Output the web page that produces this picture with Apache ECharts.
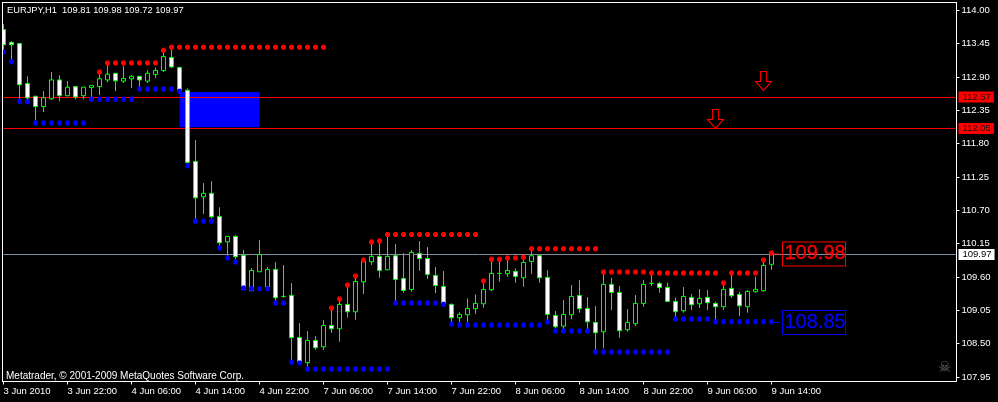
<!DOCTYPE html>
<html><head><meta charset="utf-8">
<style>html,body{margin:0;padding:0;background:#000;overflow:hidden}#c{width:998px;height:402px}</style>
<script src="https://cdn.jsdelivr.net/npm/echarts@6/dist/echarts.min.js"></script>
</head><body><div id="c"></div>
<script>
const xTickLabels=['3 Jun 2010','3 Jun 22:00','4 Jun 06:00','4 Jun 14:00','4 Jun 22:00','7 Jun 06:00','7 Jun 14:00','7 Jun 22:00','8 Jun 06:00','8 Jun 14:00','8 Jun 22:00','9 Jun 06:00','9 Jun 14:00'];
const yTickLabels=[114.00,113.45,112.90,112.35,111.80,111.25,110.70,110.15,109.60,109.05,108.50,107.95];
const opens=[113.68,113.47,113.45,112.79,112.58,112.41,112.54,112.85,112.59,112.74,
112.59,112.725,112.74,112.85,112.96,112.83,112.87,112.91,112.83,112.94,
113.005,113.22,113.055,112.68,111.505,110.923,110.98,110.60,110.18,110.27,
109.956,109.374,109.687,109.44,109.725,109.28,109.297,108.604,108.187,108.555,
108.45,108.80,108.747,109.148,109.027,109.52,109.852,109.94,109.72,109.95,
109.577,109.395,109.989,109.906,109.626,109.445,109.148,108.928,108.978,109.077,
109.159,109.39,109.659,109.654,109.692,109.588,109.857,109.95,109.593,108.967,
108.791,108.978,109.296,109.082,108.851,108.697,109.478,109.346,108.731,108.83,
109.165,109.495,109.495,109.429,109.198,109.044,109.264,109.159,109.264,109.165,
109.11,109.412,109.313,109.11,109.357,109.374,109.81];
const closes=[113.43,113.43,112.77,112.555,112.41,112.555,112.85,112.59,112.73,112.57,
112.73,112.76,112.87,112.945,112.835,112.875,112.91,112.85,112.96,113.005,
113.235,113.065,112.68,111.49,110.906,110.98,110.593,110.165,110.27,109.934,
109.395,109.709,109.972,109.725,109.258,109.28,108.599,108.203,108.555,108.434,
108.80,108.747,109.148,109.027,109.527,109.857,109.94,109.709,109.94,109.56,
109.379,110.005,109.906,109.643,109.461,109.137,108.928,108.983,109.082,109.165,
109.395,109.659,109.659,109.708,109.61,109.84,109.95,109.588,108.983,108.78,
108.983,109.28,109.077,108.862,108.681,109.478,109.346,108.714,108.852,109.165,
109.478,109.495,109.429,109.198,109.028,109.28,109.143,109.247,109.176,109.11,
109.396,109.291,109.126,109.363,109.396,109.791,109.97];
const lows=[113.34,113.15,112.53,112.52,112.18,112.32,112.52,112.50,112.58,112.53,
112.53,112.56,112.60,112.81,112.665,112.80,112.715,112.73,112.80,112.88,
112.98,113.045,112.655,111.47,110.55,110.64,110.565,110.115,109.945,109.89,
109.385,109.368,109.687,109.44,109.192,109.258,108.23,108.19,108.12,108.40,
108.395,108.68,108.533,108.93,108.895,109.319,109.80,109.588,109.709,109.203,
109.34,109.357,109.703,109.566,109.335,109.12,108.851,108.851,108.851,108.989,
109.093,109.368,109.522,109.604,109.505,109.439,109.648,109.505,108.89,108.752,
108.736,108.906,109.011,108.725,108.395,108.423,109.055,108.599,108.698,108.791,
109.11,109.451,109.341,109.198,108.934,109.011,109.055,109.088,109.055,108.89,
109.055,109.253,108.956,109.011,109.341,109.357,109.72];
const highs=[113.77,113.49,113.46,112.91,112.59,112.665,112.98,112.93,112.83,112.75,
112.73,112.76,112.945,113.10,112.96,113.08,112.93,112.91,113.01,113.055,
113.31,113.35,113.07,112.71,111.857,111.148,111.18,110.75,110.27,110.29,
110.044,109.747,110.209,109.764,109.846,109.797,109.50,108.84,108.708,108.626,
108.89,109.055,109.203,109.44,109.588,109.857,110.148,110.159,110.29,110.143,
109.994,110.044,110.192,110.093,109.764,109.698,109.165,109.016,109.247,109.313,
109.494,109.862,109.862,109.879,109.741,109.895,110.027,109.961,109.714,109.038,
109.219,109.467,109.549,109.269,109.121,109.659,109.587,109.451,109.071,109.302,
109.55,109.632,109.517,109.506,109.258,109.434,109.319,109.401,109.385,109.192,
109.467,109.648,109.357,109.385,109.605,109.846,109.98];
const redDots=[null,null,null,null,null,null,null,null,null,null,
null,null,112.98,113.13,113.13,113.13,113.13,113.13,113.13,113.13,
113.34,113.39,113.39,113.39,113.39,113.39,113.39,113.39,113.39,113.39,
113.39,113.39,113.39,113.39,113.39,113.39,113.39,113.39,113.39,113.39,
113.39,109.088,109.236,109.467,109.615,109.879,110.176,110.192,110.30,110.30,
110.30,110.30,110.30,110.30,110.30,110.30,110.30,110.30,110.30,110.30,
109.533,109.895,109.895,109.912,109.912,109.928,110.066,110.066,110.066,110.066,
110.066,110.066,110.066,110.066,110.066,109.681,109.681,109.681,109.681,109.681,
109.681,109.665,109.665,109.665,109.665,109.665,109.665,109.665,109.665,109.665,
109.50,109.665,109.665,109.665,109.665,109.879,109.995];
const blueDots=[113.31,113.15,112.50,112.49,112.14,112.14,112.14,112.14,112.14,112.14,
112.14,112.53,112.53,112.53,112.53,112.53,112.53,112.70,112.70,112.70,
112.70,112.70,112.665,111.434,110.52,110.52,110.52,110.077,109.912,109.846,
109.417,109.406,109.406,109.406,109.17,109.17,108.198,108.181,108.082,108.082,
108.082,108.082,108.082,108.082,108.082,108.082,108.082,108.082,108.082,109.17,
109.17,109.17,109.17,109.17,109.17,109.15,108.824,108.807,108.807,108.807,
108.807,108.807,108.807,108.807,108.807,108.807,108.807,108.807,108.857,108.708,
108.708,108.708,108.708,108.708,108.362,108.362,108.362,108.362,108.362,108.362,
108.362,108.362,108.362,108.362,108.907,108.907,108.907,108.907,108.907,108.863,
108.863,108.863,108.863,108.863,108.863,108.863,108.863];
const levelLines=[112.57,112.05];
const bidLine=109.97;
const upperLevel=109.98, lowerLevel=108.85;
const zoneTop=112.65, zoneBottom=112.07;
const arrows=[[95,112.833],[89,112.206]];

const FONT='"Liberation Sans"';
const PLUS='path://M1,0H4V1H5V4H4V5H1V4H0V1H1Z';
const categories=[];
for(let i=0;i<120;i++) categories.push(i%8===0&&i/8<xTickLabels.length?xTickLabels[i/8]:'');
const candles=opens.map((o,i)=>[o,closes[i],lows[i],highs[i]]);
const onTick=i=>i%8===0&&i<=96;

const bigLabel=(c)=>({show:true,position:'right',distance:3,color:c,opacity:1,fontFamily:FONT,fontSize:20,
  textBorderColor:c,textBorderWidth:0.3,
  borderColor:c,borderWidth:1,padding:[1,1,0,2],width:60,height:23,lineHeight:23,align:'left',verticalAlign:'middle'});

const chart=echarts.init(document.getElementById('c'),null,{renderer:'canvas',width:998,height:402});
chart.setOption({
  animation:false,backgroundColor:'#000',
  grid:{left:3.5,right:42.5,top:2.5,bottom:20.5,show:false},
  xAxis:{type:'category',boundaryGap:false,data:categories,
    axisLine:{show:true,lineStyle:{color:'#fff',width:1}},
    axisTick:{show:true,length:3,interval:onTick,lineStyle:{color:'#fff'}},
    axisLabel:{show:true,interval:onTick,color:'#fff',fontFamily:FONT,fontSize:9.5,margin:5,align:'left',hideOverlap:false},
    splitLine:{show:false}},
  yAxis:{type:'value',position:'right',offset:1,min:107.877,max:114.127,scale:true,
    axisLine:{show:true,lineStyle:{color:'#fff',width:1}},
    axisTick:{show:true,length:3,customValues:yTickLabels,lineStyle:{color:'#fff'}},
    axisLabel:{show:true,customValues:yTickLabels,color:'#fff',fontFamily:FONT,fontSize:9.5,margin:5,formatter:v=>v.toFixed(2)},
    splitLine:{show:false}},
  series:[
    {type:'scatter',name:'levels',data:[],z:1,silent:true,
     markArea:{silent:true,z:1,itemStyle:{color:'#0000ff',opacity:1},data:[[{coord:[22,zoneTop]},{coord:[32,zoneBottom]}]]},
     markLine:{silent:true,z:2,symbol:'none',animation:false,precision:2,
       data:[
        ...levelLines.map(v=>({yAxis:v,lineStyle:{color:'#ff0000',width:1,type:'solid',opacity:1},
          label:{show:true,position:'end',distance:3,formatter:v.toFixed(2),color:'#111',backgroundColor:'#ff0000',fontFamily:FONT,fontSize:9.5,padding:[1,3,0,4]}})),
        {yAxis:bidLine,lineStyle:{color:'#8090a0',width:1,type:'solid',opacity:1},
          label:{show:true,position:'end',distance:3,formatter:bidLine.toFixed(2),color:'#000',backgroundColor:'#fff',fontFamily:FONT,fontSize:9.5,padding:[1,3,0,4]}}
       ]}},
    {type:'candlestick',name:'EURJPY',data:candles,z:3,barWidth:4,clip:true,
     itemStyle:{color:'#000',color0:'#fff',borderColor:'#00ff00',borderColor0:'#00ff00',borderColorDoji:'#00ff00',borderWidth:1}},
    {type:'scatter',name:'resistance',data:redDots.map((v,i)=>[i,v]),symbol:PLUS,symbolSize:5,z:4,itemStyle:{color:'#ff0000',opacity:1}},
    {type:'scatter',name:'support',data:blueDots.map((v,i)=>[i,v]),symbol:PLUS,symbolSize:5,z:4,itemStyle:{color:'#0000ff',opacity:1}},
    {type:'scatter',name:'arrows',data:arrows,symbol:'path://M5,0 H11 V10 H16 L8,19 L0,10 H5 Z',symbolSize:[16,19],z:4,
     itemStyle:{color:'rgba(0,0,0,0)',borderColor:'#ff0000',borderWidth:1,opacity:1}},
    {type:'line',name:'upperLink',data:[[96,upperLevel],[97,upperLevel]],symbol:'none',z:2,lineStyle:{color:'#ff0000',width:1}},
    {type:'line',name:'lowerLink',data:[[96,lowerLevel],[97,lowerLevel]],symbol:'none',z:2,lineStyle:{color:'#0000ff',width:1}},
    {type:'scatter',name:'upperLabel',data:[[97,upperLevel]],symbolSize:0,z:5,itemStyle:{opacity:1},
     label:Object.assign(bigLabel('#ff0000'),{formatter:upperLevel.toFixed(2)})},
    {type:'scatter',name:'lowerLabel',data:[[97,lowerLevel]],symbolSize:0,z:5,itemStyle:{opacity:1},
     label:Object.assign(bigLabel('#0000ff'),{formatter:lowerLevel.toFixed(2)})}
  ],
  graphic:[
    {type:'rect',z:8,shape:{x:0,y:0,width:3,height:381},style:{fill:'#000'}},
    {type:'rect',z:9,shape:{x:2,y:2,width:1,height:380},style:{fill:'#fff'}},
    {type:'rect',z:9,shape:{x:2,y:2,width:955,height:1},style:{fill:'#fff'}},
    {type:'text',left:7,top:6,z:10,style:{text:'EURJPY,H1  109.81 109.98 109.72 109.97',fill:'#fff',font:'9.3px '+FONT}},
    {type:'text',left:6,top:371,z:10,style:{text:'Metatrader, © 2001-2009 MetaQuotes Software Corp.',fill:'#fff',font:'10px '+FONT}},
    {type:'text',left:938,top:361,z:10,style:{text:'☠',fill:'#666',font:'15px "DejaVu Sans"'}}
  ]
});
</script></body></html>
